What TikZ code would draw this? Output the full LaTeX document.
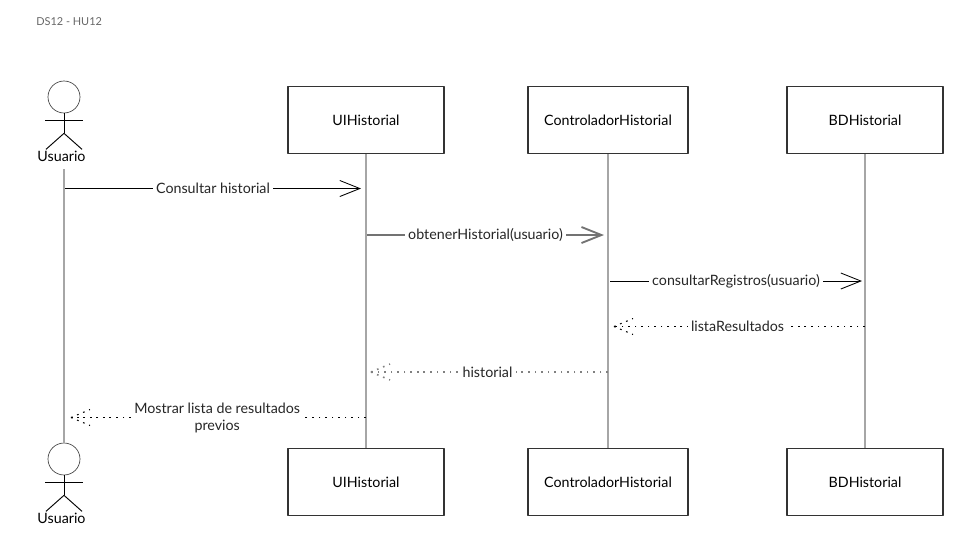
\documentclass[tikz,border=0pt]{standalone}
\usepackage{fontspec}
\setmainfont{Lato}
\usetikzlibrary{arrows.meta}
\begin{document}
\begin{tikzpicture}[x=0.75pt, y=-0.75pt, font=\fontsize{10.7pt}{12.5pt}\selectfont, line join=round, line cap=butt,
  caja/.style={draw=black!80, line width=0.9pt, minimum width=117pt, minimum height=50.5pt, inner sep=0pt},
  vida/.style={draw=black!35, line width=0.9pt},
  msg/.style={line width=0.65pt, -{Straight Barb[length=15pt,width=12pt,line width=0.65pt]}},
  msggris/.style={draw=black!55, line width=1.4pt, -{Straight Barb[length=15pt,width=12pt,line width=1.4pt]}},
  ret/.style={draw=black, line width=0.8pt, dash pattern=on 1.3pt off 3.6pt},
  retgris/.style={draw=black!50, line width=1.2pt, dash pattern=on 1.2pt off 3.7pt},
  texto/.style={fill=white, inner xsep=2.5pt, inner ysep=1pt, align=center, text=black!85}]
\useasboundingbox (0,0) rectangle (966,554);
% Titulo
\node[text=black!60, font=\fontsize{8.2pt}{9.6pt}\selectfont, anchor=west, inner sep=0pt] (titulo) at (36,21.5) {DS12 - HU12};
% Cajas de arriba y de abajo
\node[caja] (uiA) at (366,120) {UIHistorial};
\node[caja, minimum width=120pt] (ctrlA) at (608,120) {ControladorHistorial};
\node[caja] (bdA) at (865,120) {BDHistorial};
\node[caja] (uiB) at (366,482) {UIHistorial};
\node[caja, minimum width=120pt] (ctrlB) at (608,482) {ControladorHistorial};
\node[caja] (bdB) at (865,482) {BDHistorial};
% Actores
\foreach \nom/\y in {usrA/97, usrB/459}{
  \node[draw=black!75, line width=0.5pt, circle, minimum size=24pt, inner sep=0pt] (\nom) at (64,\y) {};
  \draw[line width=0.7pt] (\nom.south) -- ++(0,20) coordinate (\nom c);
  \draw[line width=0.7pt] (45,\y+23.5) -- (83,\y+23.5);
  \draw[line width=0.7pt] (\nom c) -- ++(-18,16);
  \draw[line width=0.7pt] (\nom c) -- ++(18,16);
}
\node[inner sep=0pt] (usrAtxt) at (61.5,156.5) {Usuario};
\node[inner sep=0pt] (usrBtxt) at (61.5,518.5) {Usuario};
% Lineas de vida
\coordinate (usrIni) at (64,169);
\draw[vida] (usrIni) -- (usrB.north);
\draw[vida] (uiA.south) -- (uiB.north);
\draw[vida] (ctrlA.south) -- (ctrlB.north);
\draw[vida] (bdA.south) -- (bdB.north);
% Mensajes
\coordinate (m1a) at (65,188.5);  \coordinate (m1b) at (361,188.5);
\coordinate (m2a) at (367,235);   \coordinate (m2b) at (604,235);
\coordinate (m3a) at (610,281);   \coordinate (m3b) at (862,281);
\draw[msg] (m1a) -- node[texto] (t1) {Consultar historial} (m1b);
\draw[msggris] (m2a) -- node[texto] (t2) {obtenerHistorial(usuario)} (m2b);
\draw[msg] (m3a) -- node[texto] (t3) {consultarRegistros(usuario)} (m3b);
% Retornos
\coordinate (m4a) at (865,326.5);  \coordinate (m4b) at (614,326.5);
\coordinate (m5a) at (608,372);    \coordinate (m5b) at (371,372);
\coordinate (m6a) at (366,417.5);  \coordinate (m6b) at (71,417.5);
\draw[ret] (m4a) -- node[texto, xshift=-1.5pt] (t4) {listaResultados} (m4b);
\draw[ret] (m4b) -- ++(19,-8) (m4b) -- ++(19,8);
\draw[retgris] (m5a) -- node[texto, xshift=-1.5pt] (t5) {historial} (m5b);
\draw[retgris] (m5b) -- ++(19,-8) (m5b) -- ++(19,8);
\draw[ret] (m6a) -- node[texto, xshift=-1pt, yshift=-0.5pt] (t6) {Mostrar lista de resultados\\previos} (m6b);
\draw[ret] (m6b) -- ++(19,-8) (m6b) -- ++(19,8);
\end{tikzpicture}
\end{document}
